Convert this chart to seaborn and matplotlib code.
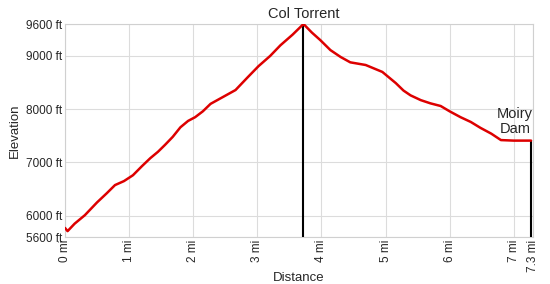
import matplotlib
matplotlib.use("Agg")
import matplotlib.pyplot as plt
import seaborn as sns
import pandas as pd

distance_mi = [0.0, 0.04, 0.15, 0.31, 0.5, 0.65, 0.78, 0.92, 1.06, 1.2, 1.33, 1.45, 1.56, 1.68, 1.8,
               1.92, 2.03, 2.15, 2.27, 2.45, 2.66, 2.85, 3.02, 3.2, 3.36, 3.55, 3.72,
               3.85, 3.98, 4.14, 4.3, 4.45, 4.69, 4.95, 5.05, 5.16, 5.28, 5.39, 5.55, 5.7, 5.86,
               6.0, 6.17, 6.33, 6.48, 6.65, 6.8, 7.0, 7.27]
elevation_ft = [5770, 5710, 5850, 6010, 6250, 6420, 6575, 6650, 6760, 6930, 7080, 7200, 7330, 7480, 7660,
                7780, 7850, 7960, 8100, 8220, 8360, 8600, 8810, 9000, 9200, 9400, 9600,
                9440, 9300, 9110, 8980, 8880, 8830, 8700, 8600, 8490, 8350, 8260, 8170, 8110, 8060,
                7960, 7850, 7760, 7650, 7540, 7420, 7410, 7410]

x_ticks = [0, 1, 2, 3, 4, 5, 6, 7, 7.3]
x_tick_labels = ["0 mi", "1 mi", "2 mi", "3 mi", "4 mi", "5 mi", "6 mi", "7 mi", "7.3 mi"]
y_ticks = [5600, 6000, 7000, 8000, 9000, 9600]
y_tick_labels = ["5600 ft", "6000 ft", "7000 ft", "8000 ft", "9000 ft", "9600 ft"]

marker_names = ["Col Torrent", "Moiry\nDam"]
marker_dist = [3.72, 7.27]
marker_elev = [9600, 7410]

sns.set_style("whitegrid")
plt.rcParams['font.family'] = ['Liberation Sans', 'DejaVu Sans']

fig = plt.figure(figsize=(5.5, 2.84), dpi=100)
ax = fig.add_axes([65/550, 1 - 237/284, (533-65)/550, (237-24)/284])

df = pd.DataFrame({"Distance": distance_mi, "Elevation": elevation_ft})
ax.vlines(marker_dist, 5600, marker_elev, colors="black", lw=1.5, zorder=3)
sns.lineplot(data=df, x="Distance", y="Elevation", ax=ax, color="#dd0000", lw=1.8, zorder=4)

ax.set_xlim(0, 7.3)
ax.set_ylim(5600, 9600)
ax.set_xticks(x_ticks)
ax.set_xticklabels(x_tick_labels, rotation=90, fontsize=8.5)
ax.set_yticks(y_ticks)
ax.set_yticklabels(y_tick_labels, fontsize=8.5)
ax.tick_params(axis='both', length=0, pad=2)
ax.grid(True, color="#dcdcdc", lw=0.8)
for s in ax.spines.values():
    s.set_color("#d0d0d0")
    s.set_linewidth(0.8)
ax.set_xlabel("Distance", fontsize=9.5, labelpad=0)
ax.set_ylabel("Elevation", fontsize=9.5, labelpad=4)

ax.text(marker_dist[0], marker_elev[0] + 60, marker_names[0], ha="center", va="bottom", fontsize=10.5)
ax.text(marker_dist[1] - 0.25, marker_elev[1] + 90, marker_names[1], ha="center", va="bottom",
        fontsize=10.5, linespacing=1.05)

fig.savefig("out.png", dpi=100)
